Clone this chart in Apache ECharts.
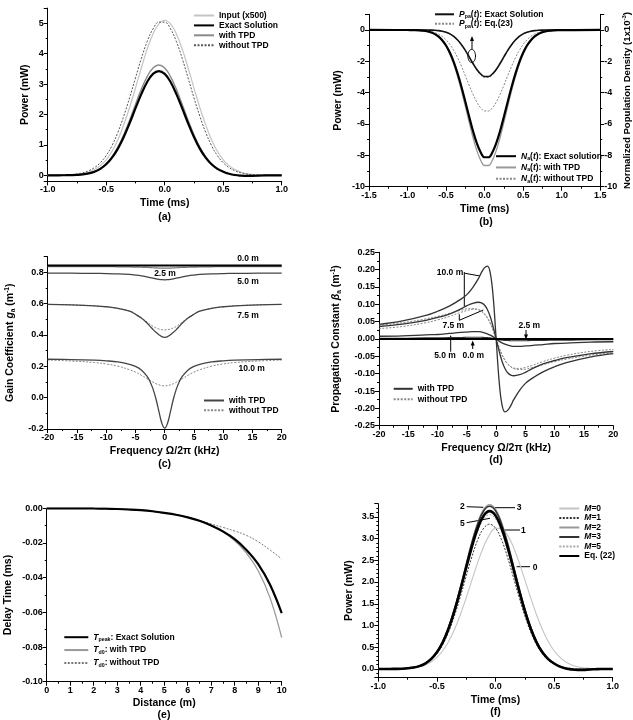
<!DOCTYPE html>
<html>
<head>
<meta charset="utf-8">
<script src="https://cdn.jsdelivr.net/npm/echarts@6/dist/echarts.min.js"></script>
<style>html,body{margin:0;padding:0;background:#fff}#main{width:633px;height:720px}</style>
</head>
<body>
<div id="main"></div>
<script>
// ---- data ----
// (a) and (f): time axis in ms
var tA = [-1,-0.95,-0.9,-0.85,-0.8,-0.75,-0.7,-0.65,-0.6,-0.55,-0.5,-0.45,-0.4,-0.35,-0.3,-0.25,-0.2,-0.15,-0.1,-0.05,0,0.05,0.1,0.15,0.2,0.25,0.3,0.35,0.4,0.45,0.5,0.55,0.6,0.65,0.7,0.75,0.8,0.85,0.9,0.95,1];
var aInput = [0,0.001,0.003,0.007,0.014,0.029,0.057,0.11,0.19,0.32,0.51,0.79,1.17,1.66,2.23,2.87,3.53,4.15,4.65,4.98,5.10,4.98,4.65,4.15,3.53,2.87,2.23,1.66,1.17,0.79,0.51,0.32,0.19,0.11,0.057,0.029,0.014,0.007,0.003,0.001,0];
var aExact = [0,0,0.001,0.003,0.007,0.015,0.031,0.063,0.119,0.213,0.362,0.58,0.879,1.262,1.713,2.199,2.671,3.069,3.336,3.43,3.336,3.069,2.671,2.199,1.713,1.262,0.879,0.58,0.362,0.213,0.119,0.05,0.01,-0.01,-0.02,-0.02,-0.01,-0.005,0,0,0];
var aWith = [0,0,0.001,0.003,0.007,0.016,0.033,0.066,0.126,0.226,0.383,0.613,0.931,1.335,1.813,2.328,2.827,3.248,3.531,3.63,3.531,3.248,2.827,2.328,1.813,1.335,0.931,0.613,0.383,0.226,0.126,0.055,0.012,-0.01,-0.02,-0.02,-0.01,-0.005,0,0,0];
var aWithout = [0.001,0.002,0.005,0.010,0.021,0.043,0.083,0.15,0.255,0.415,0.65,0.98,1.415,1.945,2.55,3.20,3.84,4.40,4.815,5.04,5.04,4.815,4.40,3.84,3.20,2.55,1.945,1.415,0.98,0.65,0.415,0.255,0.15,0.083,0.043,0.021,0.010,0.005,0.002,0.001,0];

// (b)
var tB = [-1.5,-1,-0.95,-0.9,-0.85,-0.8,-0.75,-0.7,-0.65,-0.6,-0.55,-0.5,-0.45,-0.4,-0.35,-0.3,-0.25,-0.2,-0.15,-0.1,-0.05,0,0.05,0.1,0.15,0.2,0.25,0.3,0.35,0.4,0.45,0.5,0.55,0.6,0.65,0.7,0.75,0.8,0.85,0.9,0.95,1,1.5];
var bPaExact = [0,0,0,0,-0.001,-0.002,-0.004,-0.01,-0.02,-0.041,-0.08,-0.146,-0.25,-0.41,-0.64,-0.94,-1.30,-1.72,-2.14,-2.52,-2.81,-2.97,-2.97,-2.81,-2.52,-2.14,-1.72,-1.30,-0.94,-0.64,-0.41,-0.25,-0.146,-0.08,-0.041,-0.02,-0.01,-0.004,-0.002,-0.001,0,0,0];
var bPaEq23 = [0,0,0,0,-0.001,-0.002,-0.005,-0.01,-0.021,-0.042,-0.082,-0.15,-0.259,-0.423,-0.656,-0.962,-1.336,-1.757,-2.187,-2.578,-2.876,-3.038,-3.038,-2.876,-2.578,-2.187,-1.757,-1.336,-0.962,-0.656,-0.423,-0.259,-0.15,-0.082,-0.042,-0.021,-0.01,-0.005,-0.002,-0.001,0,0,0];
var bNExact = [0,-0.002,-0.006,-0.011,-0.024,-0.045,-0.083,-0.147,-0.251,-0.412,-0.652,-0.993,-1.455,-2.052,-2.786,-3.641,-4.579,-5.543,-6.458,-7.242,-7.817,-8.122,-8.122,-7.817,-7.242,-6.458,-5.543,-4.579,-3.641,-2.786,-2.052,-1.455,-0.993,-0.652,-0.412,-0.251,-0.147,-0.083,-0.045,-0.024,-0.011,-0.006,0];
var bNWith = [0,-0.003,-0.006,-0.012,-0.025,-0.048,-0.088,-0.156,-0.267,-0.439,-0.694,-1.057,-1.549,-2.185,-2.966,-3.876,-4.875,-5.901,-6.875,-7.71,-8.322,-8.647,-8.647,-8.322,-7.71,-6.875,-5.901,-4.875,-3.876,-2.966,-2.185,-1.549,-1.057,-0.694,-0.439,-0.267,-0.156,-0.088,-0.048,-0.025,-0.012,-0.006,0];
var bNWithout = [0,-0.002,-0.004,-0.007,-0.015,-0.029,-0.053,-0.093,-0.16,-0.263,-0.415,-0.632,-0.926,-1.306,-1.773,-2.318,-2.915,-3.528,-4.111,-4.61,-4.976,-5.17,-5.17,-4.976,-4.61,-4.111,-3.528,-2.915,-2.318,-1.773,-1.306,-0.926,-0.632,-0.415,-0.263,-0.16,-0.093,-0.053,-0.029,-0.015,-0.007,-0.004,0];

// (c) and (d): frequency in kHz
var fC = [-20,-16,-12,-10,-8,-6,-5,-4,-3,-2.5,-2,-1.5,-1,-0.5,0,0.5,1,1.5,2,2.5,3,4,5,6,8,10,12,16,20];
var c00 = [0.843,0.843,0.843,0.843,0.843,0.843,0.843,0.843,0.843,0.843,0.843,0.843,0.843,0.843,0.843,0.843,0.843,0.843,0.843,0.843,0.843,0.843,0.843,0.843,0.843,0.843,0.843,0.843,0.843];
var c25 = [0.836,0.836,0.836,0.836,0.835,0.834,0.833,0.832,0.831,0.830,0.829,0.828,0.827,0.826,0.826,0.826,0.827,0.828,0.829,0.830,0.831,0.832,0.833,0.834,0.835,0.836,0.836,0.836,0.836];
var c50 = [0.795,0.794,0.793,0.792,0.790,0.786,0.782,0.777,0.770,0.766,0.762,0.758,0.755,0.753,0.752,0.753,0.755,0.758,0.762,0.766,0.770,0.777,0.782,0.786,0.790,0.792,0.793,0.794,0.795];
var c75With = [0.595,0.592,0.586,0.580,0.570,0.552,0.532,0.508,0.475,0.455,0.435,0.417,0.402,0.389,0.385,0.389,0.402,0.417,0.435,0.455,0.475,0.508,0.532,0.552,0.570,0.580,0.586,0.592,0.595];
var c75Without = [0.595,0.592,0.586,0.580,0.570,0.552,0.533,0.511,0.482,0.468,0.455,0.445,0.438,0.434,0.432,0.434,0.438,0.445,0.455,0.468,0.482,0.511,0.533,0.552,0.570,0.580,0.586,0.592,0.595];
var c10With = [0.245,0.243,0.239,0.235,0.228,0.213,0.200,0.177,0.136,0.102,0.056,-0.007,-0.086,-0.162,-0.195,-0.162,-0.086,-0.007,0.056,0.102,0.136,0.177,0.200,0.213,0.228,0.235,0.239,0.243,0.245];
var c10Without = [0.240,0.234,0.224,0.215,0.201,0.178,0.163,0.143,0.121,0.110,0.099,0.089,0.082,0.077,0.075,0.077,0.082,0.089,0.099,0.110,0.121,0.143,0.163,0.178,0.201,0.215,0.224,0.234,0.240];

var d00 = [0,0,0,0,0,0,0,0,0,0,0,0,0,0,0,0,0,0,0,0,0,0,0,0,0,0,0,0,0];
var d25 = [0.002,0.002,0.003,0.003,0.004,0.004,0.005,0.005,0.005,0.005,0.004,0.004,0.003,0.002,0,-0.002,-0.003,-0.004,-0.004,-0.005,-0.005,-0.005,-0.005,-0.004,-0.004,-0.003,-0.003,-0.002,-0.002];
var d50 = [0.008,0.009,0.012,0.013,0.016,0.019,0.020,0.021,0.021,0.020,0.018,0.015,0.011,0.006,0,-0.006,-0.011,-0.015,-0.018,-0.020,-0.021,-0.021,-0.020,-0.019,-0.016,-0.013,-0.012,-0.009,-0.008];
var d75With = [0.036,0.043,0.054,0.062,0.072,0.087,0.096,0.103,0.106,0.104,0.098,0.085,0.064,0.034,0,-0.034,-0.064,-0.085,-0.098,-0.104,-0.106,-0.103,-0.096,-0.087,-0.072,-0.062,-0.054,-0.043,-0.036];
var d75Without = [0.030,0.036,0.047,0.055,0.065,0.077,0.082,0.085,0.084,0.080,0.073,0.062,0.046,0.025,0,-0.025,-0.046,-0.062,-0.073,-0.080,-0.084,-0.085,-0.082,-0.077,-0.065,-0.055,-0.047,-0.036,-0.030];
var d10With = [0.042,0.052,0.068,0.080,0.095,0.115,0.128,0.148,0.175,0.192,0.205,0.210,0.190,0.120,0,-0.120,-0.190,-0.210,-0.205,-0.192,-0.175,-0.148,-0.128,-0.115,-0.095,-0.080,-0.068,-0.052,-0.042];
var d10Without = [0.040,0.047,0.058,0.065,0.074,0.083,0.087,0.088,0.085,0.080,0.072,0.060,0.045,0.024,0,-0.024,-0.045,-0.060,-0.072,-0.080,-0.085,-0.088,-0.087,-0.083,-0.074,-0.065,-0.058,-0.047,-0.040];

// (e): distance in m, delay in ms
var xE = [0,0.5,1,1.5,2,2.5,3,3.5,4,4.5,5,5.5,6,6.5,7,7.5,8,8.5,9,9.5,10];
var eExact = [0,0,0,0,-0.0001,-0.0002,-0.0004,-0.0007,-0.0011,-0.0017,-0.0026,-0.0037,-0.0052,-0.0072,-0.0099,-0.0133,-0.0178,-0.0240,-0.0322,-0.0440,-0.0605];
var eWith = [0,0,0,0,-0.0001,-0.0002,-0.0004,-0.0007,-0.0011,-0.0017,-0.0026,-0.0037,-0.0052,-0.0072,-0.0100,-0.0137,-0.0187,-0.0258,-0.0360,-0.0515,-0.0745];
var eWithout = [0,0,0,0,-0.0001,-0.0002,-0.0004,-0.0007,-0.0011,-0.0017,-0.0026,-0.0037,-0.0051,-0.0069,-0.0090,-0.0110,-0.0131,-0.0156,-0.0193,-0.0240,-0.0292];

// (f)
var fM0 = [0,0.001,0.002,0.003,0.007,0.014,0.028,0.052,0.094,0.162,0.266,0.419,0.631,0.907,1.247,1.637,2.054,2.463,2.822,3.09,3.233,3.233,3.09,2.822,2.463,2.054,1.637,1.247,0.907,0.631,0.419,0.266,0.162,0.094,0.052,0.028,0.014,0.007,0.003,0.002,0.001];
var fM1 = [0,0,0.001,0.003,0.006,0.014,0.03,0.061,0.116,0.207,0.351,0.563,0.854,1.225,1.663,2.135,2.593,2.98,3.239,3.33,3.239,2.98,2.593,2.135,1.663,1.225,0.854,0.563,0.351,0.207,0.116,0.061,0.03,0.014,0.006,0.003,0.001,0,0,0,0];
var fM2 = [0,0,0.001,0.003,0.007,0.016,0.035,0.069,0.131,0.235,0.398,0.639,0.969,1.391,1.888,2.424,2.944,3.382,3.676,3.78,3.676,3.382,2.944,2.424,1.888,1.391,0.969,0.639,0.398,0.235,0.131,0.06,0.015,-0.008,-0.015,-0.012,-0.006,-0.002,0,0,0];
var fM3 = [0,0,0.001,0.003,0.007,0.016,0.034,0.068,0.13,0.233,0.394,0.632,0.959,1.376,1.868,2.398,2.913,3.347,3.638,3.74,3.638,3.347,2.913,2.398,1.868,1.376,0.959,0.632,0.394,0.233,0.13,0.058,0.012,-0.012,-0.022,-0.02,-0.01,-0.005,0,0,0];
var fM5 = [0,0,0.001,0.003,0.007,0.015,0.032,0.065,0.123,0.221,0.374,0.6,0.91,1.306,1.773,2.276,2.765,3.177,3.453,3.55,3.453,3.177,2.765,2.276,1.773,1.306,0.91,0.6,0.374,0.221,0.123,0.065,0.03,0.012,0.005,0.002,0.001,0,0,0,0];
var fEq22 = [0,0,0.001,0.003,0.007,0.016,0.033,0.066,0.126,0.226,0.383,0.613,0.931,1.335,1.813,2.328,2.827,3.248,3.531,3.63,3.531,3.248,2.827,2.328,1.813,1.335,0.931,0.613,0.383,0.226,0.126,0.055,0.012,-0.01,-0.02,-0.02,-0.01,-0.005,0,0,0];

// ---- chart ----
var FONT = '"Liberation Sans", Arial, Helvetica, sans-serif';

function richSet(size) {
  return {
    i: {fontSize: size, fontStyle: 'italic', fontWeight: 'bold', fontFamily: FONT, color: '#000'},
    sub: {fontSize: size * 0.62, fontWeight: 'bold', fontFamily: FONT, color: '#000', padding: [size * 0.6, 0, 0, 0]},
    sup: {fontSize: size * 0.62, fontWeight: 'bold', fontFamily: FONT, color: '#000', padding: [0, 0, size * 0.6, 0]}
  };
}

function valAxis(gi, o) {
  var ns = o.nameSize || 10.5;
  var ax = {
    type: 'value', gridIndex: gi, min: o.min, max: o.max,
    splitLine: {show: false},
    axisLine: {onZero: false, lineStyle: {color: '#000', width: 1}},
    axisTick: {show: true, inside: false, length: 4, lineStyle: {color: '#000', width: 1}},
    minorTick: {show: true, splitNumber: o.minor || 2, length: 2, lineStyle: {color: '#000', width: 1}},
    axisLabel: {
      color: '#000', fontSize: 9, fontWeight: 'bold', fontFamily: FONT, margin: 4,
      formatter: function (v) { return (+v).toFixed(o.dec); }
    },
    name: o.name, nameLocation: 'middle', nameGap: o.gap,
    nameTextStyle: {color: '#000', fontSize: ns, fontWeight: 'bold', fontFamily: FONT, rich: richSet(ns)}
  };
  if (o.hideMin) ax.axisLabel.showMinLabel = false;
  if (o.hideMax) ax.axisLabel.showMaxLabel = false;
  if (o.interval != null) ax.interval = o.interval;
  if (o.step != null) { ax.minInterval = o.step; ax.maxInterval = o.step; }
  if (o.position) ax.position = o.position;
  if (o.vertical) ax.nameRotate = 90;
  return ax;
}

function curve(name, xi, yi, xs, ys, color, width, dash, z) {
  return {
    type: 'line', name: name, xAxisIndex: xi, yAxisIndex: yi,
    data: xs.map(function (x, i) { return [x, ys[i]]; }),
    symbol: 'none', showSymbol: false, smooth: 0.4,
    lineStyle: {color: color, width: width, type: dash ? [2, 1.5] : 'solid'},
    itemStyle: {color: color},
    silent: true, z: z || 2
  };
}

var legendText = {
  aIn: 'Input (x500)', aEx: 'Exact Solution', aW: 'with TPD', aNo: 'without TPD',
  bPaEx: '{i|P}{sub|pa}({i|t}): Exact Solution', bPa23: '{i|P}{sub|pa}({i|t}): Eq.(23)',
  bNEx: '{i|N}{sub|a}({i|t}): Exact solution', bNW: '{i|N}{sub|a}({i|t}): with TPD', bNNo: '{i|N}{sub|a}({i|t}): without TPD',
  cW: 'with TPD', cNo: 'without TPD', dW: 'with TPD', dNo: 'without TPD',
  eEx: '{i|T}{sub|peak}: Exact Solution', eW: '{i|T}{sub|d0}: with TPD', eNo: '{i|T}{sub|d0}: without TPD',
  f0: '{i|M}=0', f1: '{i|M}=1', f2: '{i|M}=2', f3: '{i|M}=3', f5: '{i|M}=5', f22: 'Eq. (22)'
};

function legend(names, left, top, w, h, gap) {
  return {
    data: names, orient: 'vertical', left: left, top: top, padding: 0,
    itemWidth: w, itemHeight: h, itemGap: gap, selectedMode: false,
    itemStyle: {opacity: 0, borderWidth: 0},
    formatter: function (n) { return legendText[n]; },
    textStyle: {color: '#000', fontSize: 8.5, fontWeight: 'bold', fontFamily: FONT, rich: richSet(8.5)}
  };
}

function txt(x, y, s, size) {
  return {type: 'text', x: x, y: y, silent: true,
    style: {text: s, fontSize: size || 8.5, fontWeight: 'bold', fontFamily: FONT, fill: '#000', align: 'center', verticalAlign: 'middle'}};
}
function seg(x1, y1, x2, y2) {
  return {type: 'line', silent: true, shape: {x1: x1, y1: y1, x2: x2, y2: y2}, style: {stroke: '#000', lineWidth: 1}};
}
function head(x, y, dir) {
  var d = dir === 'up' ? 5 : -5;
  return {type: 'polygon', silent: true, shape: {points: [[x, y], [x - 2, y + d], [x + 2, y + d]]}, style: {fill: '#000'}};
}

var option = {
  animation: false,
  backgroundColor: '#fff',
  grid: [
    {left: 47.7, top: 8.1, width: 234, height: 173.3},
    {left: 369, top: 14.3, width: 234.3, height: 172.4},
    {left: 47.7, top: 256.6, width: 234, height: 172.4},
    {left: 379, top: 252.3, width: 234.3, height: 173.4},
    {left: 46.7, top: 508.3, width: 235, height: 173.4},
    {left: 378.3, top: 503.7, width: 234.4, height: 174}
  ],
  xAxis: [
    valAxis(0, {min: -1, max: 1, interval: 0.5, dec: 1, name: 'Time (ms)', gap: 16.5}),
    valAxis(1, {min: -1.5, max: 1.5, interval: 0.5, dec: 1, name: 'Time (ms)', gap: 17}),
    valAxis(2, {min: -20, max: 20, interval: 5, dec: 0, name: 'Frequency Ω/2π (kHz)', gap: 16.5}),
    valAxis(3, {min: -20, max: 20, interval: 5, dec: 0, name: 'Frequency Ω/2π (kHz)', gap: 17}),
    valAxis(4, {min: 0, max: 10, interval: 1, dec: 0, name: 'Distance (m)', gap: 15.5}),
    valAxis(5, {min: -1, max: 1, interval: 0.5, dec: 1, name: 'Time (ms)', gap: 16.5})
  ],
  yAxis: [
    valAxis(0, {min: -0.2, max: 5.5, step: 1, dec: 0, hideMin: true, hideMax: true, name: 'Power (mW)', gap: 17, vertical: true}),
    valAxis(1, {min: -10, max: 1, interval: 2, dec: 0, hideMax: true, name: 'Power (mW)', gap: 25, vertical: true}),
    valAxis(1, {min: -10, max: 1, interval: 2, dec: 0, hideMax: true, position: 'right', name: 'Normalized Population Density (1x10{sup|-3})', gap: 20, nameSize: 9.6, vertical: true}),
    valAxis(2, {min: -0.2, max: 0.9, interval: 0.2, dec: 1, hideMax: true, name: 'Gain Coefficient {i|g}{sub|a} (m{sup|-1})', gap: 31, vertical: true}),
    valAxis(3, {min: -0.25, max: 0.25, interval: 0.05, dec: 2, name: 'Propagation Constant {i|β}{sub|a} (m{sup|-1})', gap: 36, vertical: true}),
    valAxis(4, {min: -0.1, max: 0, interval: 0.02, dec: 2, name: 'Delay Time (ms)', gap: 33, vertical: true}),
    valAxis(5, {min: -0.2, max: 3.8, step: 0.5, dec: 1, minor: 5, hideMin: true, hideMax: true, name: 'Power (mW)', gap: 24, vertical: true})
  ],
  legend: [
    legend(['aIn', 'aEx', 'aW', 'aNo'], 193, 11, 20, 10, 0.9),
    legend(['bPaEx', 'bPa23'], 434, 9.8, 19, 9, 0),
    legend(['bNEx', 'bNW', 'bNNo'], 495, 151.7, 20, 10, 1.7),
    legend(['cW', 'cNo'], 203, 396, 20, 10, 0.7),
    legend(['dW', 'dNo'], 392.7, 384.3, 19, 10, 1.4),
    legend(['eEx', 'eW', 'eNo'], 63.3, 632.7, 24, 10, 3.3),
    legend(['f0', 'f1', 'f2', 'f3', 'f5', 'f22'], 558.3, 504, 20, 10, 0.5)
  ],
  series: [
    // (a)
    curve('aIn', 0, 0, tA, aInput, '#c4c4c4', 1.2, false, 2),
    curve('aEx', 0, 0, tA, aExact, '#000', 2.2, false, 5),
    curve('aW', 0, 0, tA, aWith, '#8a8a8a', 1.4, false, 4),
    curve('aNo', 0, 0, tA, aWithout, '#555', 1, true, 3),
    // (b)
    curve('bPaEx', 1, 1, tB, bPaExact, '#111', 1.6, false, 5),
    curve('bPa23', 1, 1, tB, bPaEq23, '#888', 1, true, 4),
    curve('bNEx', 1, 1, tB, bNExact, '#000', 2.2, false, 5),
    curve('bNW', 1, 1, tB, bNWith, '#999', 1.3, false, 3),
    curve('bNNo', 1, 1, tB, bNWithout, '#888', 1, true, 3),
    // (c)
    curve('cW', 2, 3, fC, c10With, '#444', 1.3, false, 3),
    curve('cNo', 2, 3, fC, c10Without, '#888', 1, true, 2),
    curve('cW', 2, 3, fC, c75With, '#444', 1.3, false, 3),
    curve('cNo', 2, 3, fC, c75Without, '#888', 1, true, 2),
    curve('cW', 2, 3, fC, c50, '#444', 1.3, false, 3),
    curve('c25', 2, 3, fC, c25, '#777', 1.2, false, 3),
    curve('c00', 2, 3, fC, c00, '#000', 2, false, 4),
    // (d)
    curve('dW', 3, 4, fC, d10With, '#333', 1.3, false, 3),
    curve('dNo', 3, 4, fC, d10Without, '#888', 1, true, 2),
    curve('dW', 3, 4, fC, d75With, '#333', 1.3, false, 3),
    curve('dNo', 3, 4, fC, d75Without, '#888', 1, true, 2),
    curve('dW', 3, 4, fC, d50, '#333', 1.3, false, 3),
    curve('d25', 3, 4, fC, d25, '#333', 1.2, false, 3),
    curve('d00', 3, 4, fC, d00, '#000', 1.8, false, 4),
    // (e)
    curve('eEx', 4, 5, xE, eExact, '#000', 2.2, false, 5),
    curve('eW', 4, 5, xE, eWith, '#999', 1.3, false, 4),
    curve('eNo', 4, 5, xE, eWithout, '#777', 1, true, 3),
    // (f)
    curve('f0', 5, 6, tA, fM0, '#c4c4c4', 1.1, false, 2),
    curve('f1', 5, 6, tA, fM1, '#333', 1, true, 3),
    curve('f2', 5, 6, tA, fM2, '#999', 1.3, false, 3),
    curve('f3', 5, 6, tA, fM3, '#333', 1.5, false, 4),
    curve('f5', 5, 6, tA, fM5, '#aaa', 1, true, 3),
    curve('f22', 5, 6, tA, fEq22, '#000', 2.6, false, 5)
  ],
  graphic: [
    // captions
    txt(164.7, 217, '(a)', 10.5), txt(486, 222, '(b)', 10.5), txt(164.7, 464, '(c)', 10.5),
    txt(496, 460, '(d)', 10.5), txt(164, 715, '(e)', 10.5), txt(495.5, 712, '(f)', 10.5),
    // (b) marker
    {type: 'ellipse', silent: true, shape: {cx: 471.7, cy: 56, rx: 3.8, ry: 6.6}, style: {stroke: '#000', fill: 'none', lineWidth: 1}},
    seg(472, 49, 472, 39), head(472, 36, 'up'),
    // (c) labels
    txt(248, 259, '0.0 m'), txt(165, 273.3, '2.5 m'), txt(248, 281.7, '5.0 m'),
    txt(248, 316, '7.5 m'), txt(251.7, 368.3, '10.0 m'),
    // (d) labels
    txt(450, 272.3, '10.0 m'), seg(465, 273.3, 480, 276), seg(464.3, 272, 464.3, 306.7),
    txt(453.3, 325.7, '7.5 m'), seg(459.3, 320.3, 459.3, 314.3), seg(459.3, 320.3, 483.3, 310),
    txt(529.3, 325.7, '2.5 m'), seg(526, 330, 526, 337), head(526, 339.5, 'down'),
    txt(445, 355.7, '5.0 m'), seg(450.7, 351.7, 450.7, 338), head(450.7, 335, 'up'),
    txt(473.3, 355.7, '0.0 m'), seg(472.7, 349, 472.7, 343), head(472.7, 340.5, 'up'),
    // (f) labels
    txt(462.3, 506.7, '2'), seg(466.7, 506.7, 483.3, 507.3),
    txt(519, 507.3, '3'), seg(495, 507.7, 515, 507.7),
    txt(462.3, 523.3, '5'), seg(466.7, 522.7, 490, 518.3),
    txt(523.3, 530.7, '1'), seg(501.7, 530, 520, 530),
    txt(535, 567.3, '0'), seg(516.7, 566.7, 530, 566.7)
  ]
};

var chart = echarts.init(document.getElementById('main'), null, {renderer: 'canvas'});
chart.setOption(option);
</script>
</body>
</html>
